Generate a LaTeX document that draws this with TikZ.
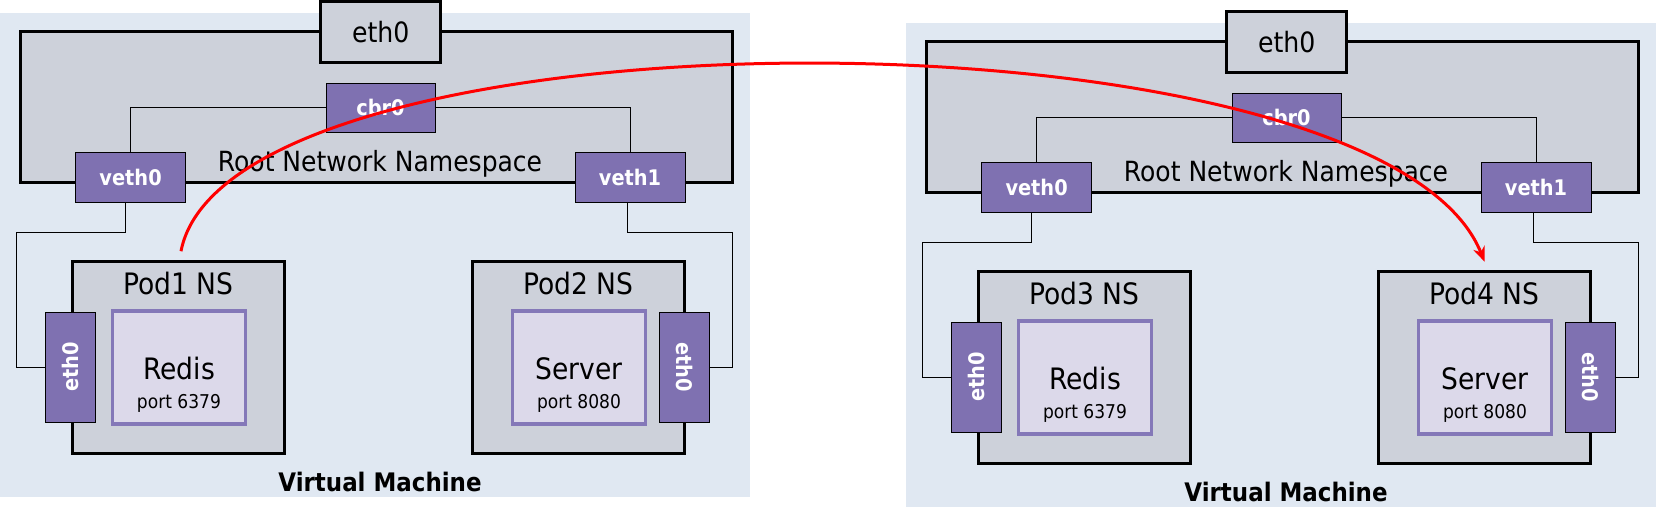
\documentclass[tikz,border=0pt]{standalone}
\usepackage{fontspec}
\setmainfont{DejaVu Sans}[FakeStretch=0.9]
\usetikzlibrary{arrows.meta}
\definecolor{vmbg}{HTML}{E0E8F2}
\definecolor{nsgray}{HTML}{CDD1DA}
\definecolor{ifpurple}{HTML}{7F71B1}
\definecolor{appfill}{HTML}{DCD9EA}
\definecolor{appborder}{HTML}{8478B8}
\definecolor{flowred}{HTML}{FF0000}
\tikzset{
  vmbox/.style={fill=vmbg, draw=none, minimum width=750pt, minimum height=484.3pt, inner sep=0pt, outer sep=0pt},
  nsbox/.style={fill=nsgray, draw=black, line width=3pt, inner sep=0pt, outer sep=0pt},
  podbox/.style={nsbox, minimum width=212pt, minimum height=191.5pt},
  ifbox/.style={fill=ifpurple, draw=black, line width=0.9pt, text=white, font=\fontsize{21.5}{24}\selectfont\bfseries, inner sep=0pt, outer sep=0pt},
  podif/.style={ifbox, minimum width=50.5pt, minimum height=110pt},
  appbox/.style={fill=appfill, draw=appborder, line width=3.5pt, minimum width=133pt, minimum height=113pt, inner sep=0pt, outer sep=0pt},
  wire/.style={draw=black, line width=0.9pt},
  rootlbl/.style={inner sep=0pt, font=\fontsize{27.8}{30}\selectfont},
  podlbl/.style={inner sep=0pt, font=\fontsize{29.5}{32}\selectfont},
  applbl/.style={inner sep=0pt, font=\fontsize{29.5}{32}\selectfont},
  portlbl/.style={inner sep=0pt, font=\fontsize{19}{22}\selectfont},
  vmlbl/.style={inner sep=0pt, font=\fontsize{25.5}{28}\selectfont\bfseries},
  flow/.style={draw=flowred, line width=3pt, -{Stealth[length=15pt, width=12pt]}},
}
\newcommand\drawvm[5]{%
\begin{scope}[shift={(#2,#3)}]
  \node[vmbox] (#1vm) at (375,254.85) {};
  \node[nsbox, minimum width=712pt, minimum height=151.3pt] (#1root) at (376,107.35) {};
  \node[nsbox, minimum width=120.5pt, minimum height=61.3pt, font=\fontsize{28}{30}\selectfont] (#1eth) at (380.7,32.3) {eth0};
  \node[rootlbl] (#1rootlbl) at (380,163.5) {Root Network Namespace};
  \node[ifbox, minimum width=109pt, minimum height=49pt] (#1cbr) at (380.5,107.5) {cbr0};
  \node[ifbox, minimum width=110pt, minimum height=50pt] (#1vethA) at (130.6,177) {veth0};
  \node[ifbox, minimum width=110pt, minimum height=50pt] (#1vethB) at (630,177) {veth1};
  \draw[wire] (#1cbr.west) -| (#1vethA.north);
  \draw[wire] (#1cbr.east) -| (#1vethB.north);
  \node[podbox] (#1podA) at (178.5,357.45) {};
  \node[podbox] (#1podB) at (578.5,357.45) {};
  \node[podlbl] (#1podAlbl) at (178.5,283.5) {#4 NS};
  \node[podlbl] (#1podBlbl) at (578.5,283.5) {#5 NS};
  \node[appbox] (#1appA) at (179,367.5) {};
  \node[appbox] (#1appB) at (579,367.5) {};
  \node[applbl] (#1appAname) at (179,369) {Redis};
  \node[portlbl] (#1appAport) at (179,403) {port 6379};
  \node[applbl] (#1appBname) at (579,369) {Server};
  \node[portlbl] (#1appBport) at (579,403) {port 8080};
  \node[podif] (#1peA) at (70.25,367) {\rotatebox{90}{eth0}};
  \node[podif] (#1peB) at (684.5,367) {\rotatebox{-90}{eth0}};
  \coordinate (#1wA) at (16,232);
  \coordinate (#1wB) at (732,232);
  \draw[wire] ([xshift=-5pt]#1vethA.south) |- (#1wA) |- (#1peA.west);
  \draw[wire] ([xshift=-3pt]#1vethB.south) |- (#1wB) |- (#1peB.east);
  \node[vmlbl] (#1vmlbl) at (380,482) {Virtual Machine};
\end{scope}}
\begin{document}
\begin{tikzpicture}[x=1pt, y=-1pt]
  \useasboundingbox (0,0) rectangle (1656,518);
  \drawvm{A}{0}{0}{Pod1}{Pod2}
  \drawvm{B}{906}{10}{Pod3}{Pod4}
  \coordinate (c1) at (230,0);
  \coordinate (c2) at (1380,0);
  \draw[flow] ([xshift=2.5pt,yshift=10.5pt]ApodA.north) .. controls (c1) and (c2) .. ([yshift=10pt]BpodB.north);
\end{tikzpicture}
\end{document}
